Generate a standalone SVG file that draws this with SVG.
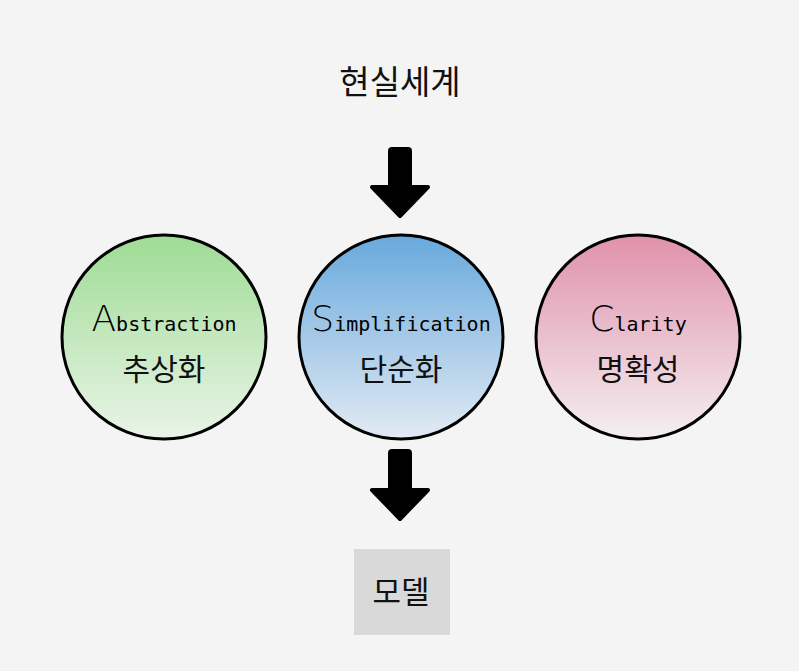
<svg xmlns="http://www.w3.org/2000/svg" width="799" height="671" viewBox="0 0 799 671">
<defs>
<linearGradient id="gGreen" x1="0" y1="0" x2="0" y2="1"><stop offset="0" stop-color="#9edc94"/><stop offset="1" stop-color="#eaf4e8"/></linearGradient>
<linearGradient id="gBlue" x1="0" y1="0" x2="0" y2="1"><stop offset="0" stop-color="#67a9dd"/><stop offset="1" stop-color="#e3eaf3"/></linearGradient>
<linearGradient id="gPink" x1="0" y1="0" x2="0" y2="1"><stop offset="0" stop-color="#e091aa"/><stop offset="1" stop-color="#f4eff2"/></linearGradient>
</defs>
<style>
.circ{stroke:#000;stroke-width:3}
.big{font-family:"DejaVu Sans","Liberation Sans",sans-serif;font-size:36px;font-weight:300}
.mono{font-family:"DejaVu Sans Mono","Liberation Mono",monospace;font-size:20px}
.ko{font-family:"Noto Sans CJK KR","Noto Sans",sans-serif;font-size:30px;fill:#111}
.arrow{fill:#000;stroke:#000;stroke-width:4;stroke-linejoin:round}
</style>
<rect width="799" height="671" fill="#f4f4f4"/>
<g id="title"><text class="ko" x="400" y="94" text-anchor="middle" style="font-size:33px">현실세계</text></g>
<g id="connectors">
<path class="arrow" d="M390,151 Q390,149 392,149 L408,149 Q410,149 410,151 L410,187 L428,187 L400,216 L372,187 L390,187 Z"/>
<path class="arrow" d="M390,453 Q390,451 392,451 L408,451 Q410,451 410,453 L410,490 L428,490 L400,519 L372,490 L390,490 Z"/>
</g>
<g id="abstraction">
<circle class="circ" cx="164" cy="337" r="102" fill="url(#gGreen)"/>
<text x="164" y="331" text-anchor="middle"><tspan class="big">A</tspan><tspan class="mono">bstraction</tspan></text>
<text class="ko" x="164" y="380" text-anchor="middle">추상화</text>
</g>
<g id="simplification">
<circle class="circ" cx="401" cy="337" r="102" fill="url(#gBlue)"/>
<text x="401" y="331" text-anchor="middle"><tspan class="big">S</tspan><tspan class="mono">implification</tspan></text>
<text class="ko" x="401" y="380" text-anchor="middle">단순화</text>
</g>
<g id="clarity">
<circle class="circ" cx="638" cy="337" r="102" fill="url(#gPink)"/>
<text x="638" y="331" text-anchor="middle"><tspan class="big">C</tspan><tspan class="mono">larity</tspan></text>
<text class="ko" x="638" y="380" text-anchor="middle">명확성</text>
</g>
<g id="model">
<rect x="354" y="549" width="96" height="86" fill="#d9d9d9"/>
<text class="ko" x="401" y="603" text-anchor="middle" style="font-size:31px">모델</text>
</g>
</svg>
